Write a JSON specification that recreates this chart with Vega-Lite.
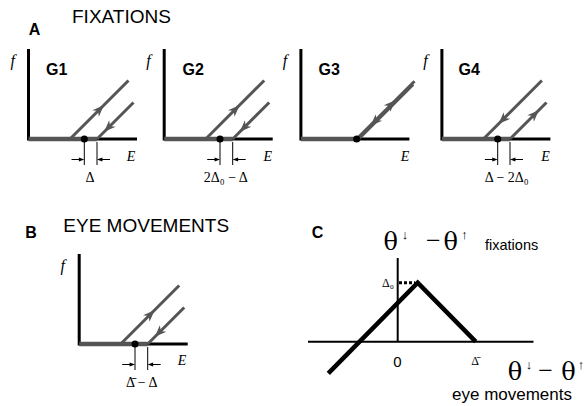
{
  "$schema": "https://vega.github.io/schema/vega-lite/v6.json",
  "width": 586,
  "height": 406,
  "padding": 0,
  "autosize": {"type": "none"},
  "background": "white",
  "config": {"view": {"stroke": null}},
  "datasets": {
    "lines": [
      {"g": "a1", "i": 0, "x": 28.5, "y": 49, "s": "axis"},
      {"g": "a1", "i": 1, "x": 28.5, "y": 139, "s": "axis"},
      {"g": "a1", "i": 2, "x": 137, "y": 139, "s": "axis"},
      {"g": "t1", "i": 0, "x": 28.5, "y": 139, "s": "track"},
      {"g": "t1", "i": 1, "x": 97, "y": 139, "s": "track"},
      {"g": "u1", "i": 0, "x": 70, "y": 139, "s": "branch"},
      {"g": "u1", "i": 1, "x": 128.5, "y": 80.5, "s": "branch"},
      {"g": "w1", "i": 0, "x": 97, "y": 139, "s": "branch"},
      {"g": "w1", "i": 1, "x": 133.5, "y": 102.5, "s": "branch"},
      {"g": "k1a", "i": 0, "x": 84.3, "y": 142, "s": "dim"},
      {"g": "k1a", "i": 1, "x": 84.3, "y": 165, "s": "dim"},
      {"g": "k1b", "i": 0, "x": 97, "y": 142, "s": "dim"},
      {"g": "k1b", "i": 1, "x": 97, "y": 165, "s": "dim"},
      {"g": "s1a", "i": 0, "x": 71.5, "y": 159.5, "s": "dim"},
      {"g": "s1a", "i": 1, "x": 81.6, "y": 159.5, "s": "dim"},
      {"g": "s1b", "i": 0, "x": 110, "y": 159.5, "s": "dim"},
      {"g": "s1b", "i": 1, "x": 99.7, "y": 159.5, "s": "dim"},

      {"g": "a2", "i": 0, "x": 164.2, "y": 49, "s": "axis"},
      {"g": "a2", "i": 1, "x": 164.2, "y": 139, "s": "axis"},
      {"g": "a2", "i": 2, "x": 272.7, "y": 139, "s": "axis"},
      {"g": "t2", "i": 0, "x": 164.2, "y": 139, "s": "track"},
      {"g": "t2", "i": 1, "x": 232.7, "y": 139, "s": "track"},
      {"g": "u2", "i": 0, "x": 205.7, "y": 139, "s": "branch"},
      {"g": "u2", "i": 1, "x": 264.2, "y": 80.5, "s": "branch"},
      {"g": "w2", "i": 0, "x": 232.7, "y": 139, "s": "branch"},
      {"g": "w2", "i": 1, "x": 269.2, "y": 102.5, "s": "branch"},
      {"g": "k2a", "i": 0, "x": 220, "y": 142, "s": "dim"},
      {"g": "k2a", "i": 1, "x": 220, "y": 165, "s": "dim"},
      {"g": "k2b", "i": 0, "x": 232.7, "y": 142, "s": "dim"},
      {"g": "k2b", "i": 1, "x": 232.7, "y": 165, "s": "dim"},
      {"g": "s2a", "i": 0, "x": 207.2, "y": 159.5, "s": "dim"},
      {"g": "s2a", "i": 1, "x": 217.3, "y": 159.5, "s": "dim"},
      {"g": "s2b", "i": 0, "x": 245.7, "y": 159.5, "s": "dim"},
      {"g": "s2b", "i": 1, "x": 235.4, "y": 159.5, "s": "dim"},

      {"g": "a3", "i": 0, "x": 300.9, "y": 49, "s": "axis"},
      {"g": "a3", "i": 1, "x": 300.9, "y": 139, "s": "axis"},
      {"g": "a3", "i": 2, "x": 409.4, "y": 139, "s": "axis"},
      {"g": "t3", "i": 0, "x": 300.9, "y": 139, "s": "track"},
      {"g": "t3", "i": 1, "x": 356.7, "y": 139, "s": "track"},
      {"g": "u3", "i": 0, "x": 356.7, "y": 139, "s": "branch"},
      {"g": "u3", "i": 1, "x": 414.5, "y": 81.2, "s": "branch"},
      {"g": "w3", "i": 0, "x": 358.7, "y": 139, "s": "branch"},
      {"g": "w3", "i": 1, "x": 413.2, "y": 84.5, "s": "branch"},

      {"g": "a4", "i": 0, "x": 441.9, "y": 49, "s": "axis"},
      {"g": "a4", "i": 1, "x": 441.9, "y": 139, "s": "axis"},
      {"g": "a4", "i": 2, "x": 550.4, "y": 139, "s": "axis"},
      {"g": "t4", "i": 0, "x": 441.9, "y": 139, "s": "track"},
      {"g": "t4", "i": 1, "x": 510, "y": 139, "s": "track"},
      {"g": "u4", "i": 0, "x": 510, "y": 139, "s": "branch"},
      {"g": "u4", "i": 1, "x": 546.5, "y": 102.5, "s": "branch"},
      {"g": "w4", "i": 0, "x": 483.4, "y": 139, "s": "branch"},
      {"g": "w4", "i": 1, "x": 541.9, "y": 80.5, "s": "branch"},
      {"g": "k4a", "i": 0, "x": 497.7, "y": 142, "s": "dim"},
      {"g": "k4a", "i": 1, "x": 497.7, "y": 165, "s": "dim"},
      {"g": "k4b", "i": 0, "x": 510, "y": 142, "s": "dim"},
      {"g": "k4b", "i": 1, "x": 510, "y": 165, "s": "dim"},
      {"g": "s4a", "i": 0, "x": 484.9, "y": 159.5, "s": "dim"},
      {"g": "s4a", "i": 1, "x": 495, "y": 159.5, "s": "dim"},
      {"g": "s4b", "i": 0, "x": 523, "y": 159.5, "s": "dim"},
      {"g": "s4b", "i": 1, "x": 512.7, "y": 159.5, "s": "dim"},

      {"g": "a5", "i": 0, "x": 79.2, "y": 254, "s": "axis"},
      {"g": "a5", "i": 1, "x": 79.2, "y": 344, "s": "axis"},
      {"g": "a5", "i": 2, "x": 187.7, "y": 344, "s": "axis"},
      {"g": "t5", "i": 0, "x": 79.2, "y": 344, "s": "track"},
      {"g": "t5", "i": 1, "x": 147.7, "y": 344, "s": "track"},
      {"g": "u5", "i": 0, "x": 120.7, "y": 344, "s": "branch"},
      {"g": "u5", "i": 1, "x": 179.2, "y": 285.5, "s": "branch"},
      {"g": "w5", "i": 0, "x": 147.7, "y": 344, "s": "branch"},
      {"g": "w5", "i": 1, "x": 184.2, "y": 307.5, "s": "branch"},
      {"g": "k5a", "i": 0, "x": 135, "y": 347, "s": "dim"},
      {"g": "k5a", "i": 1, "x": 135, "y": 370, "s": "dim"},
      {"g": "k5b", "i": 0, "x": 147.7, "y": 347, "s": "dim"},
      {"g": "k5b", "i": 1, "x": 147.7, "y": 370, "s": "dim"},
      {"g": "s5a", "i": 0, "x": 122.2, "y": 364.5, "s": "dim"},
      {"g": "s5a", "i": 1, "x": 132.3, "y": 364.5, "s": "dim"},
      {"g": "s5b", "i": 0, "x": 160.7, "y": 364.5, "s": "dim"},
      {"g": "s5b", "i": 1, "x": 150.4, "y": 364.5, "s": "dim"},

      {"g": "c1", "i": 0, "x": 308, "y": 341.7, "s": "caxis"},
      {"g": "c1", "i": 1, "x": 533.5, "y": 341.7, "s": "caxis"},
      {"g": "c2", "i": 0, "x": 397.7, "y": 258, "s": "caxis"},
      {"g": "c2", "i": 1, "x": 397.7, "y": 341.7, "s": "caxis"},
      {"g": "v", "i": 0, "x": 328.3, "y": 373.3, "s": "vee"},
      {"g": "v", "i": 1, "x": 417.7, "y": 282.7, "s": "vee"},
      {"g": "v", "i": 2, "x": 475.7, "y": 341.7, "s": "vee"},
      {"g": "dt", "i": 0, "x": 399, "y": 282.7, "s": "dots"},
      {"g": "dt", "i": 1, "x": 415, "y": 282.7, "s": "dots"}
    ],
    "marks": [
      {"x": 84.3, "y": 139, "a": 0, "s": "dot"},
      {"x": 220, "y": 139, "a": 0, "s": "dot"},
      {"x": 356.7, "y": 139, "a": 0, "s": "dot"},
      {"x": 497.7, "y": 139, "a": 0, "s": "dot"},
      {"x": 135, "y": 344, "a": 0, "s": "dot"},
      {"x": 99.5, "y": 109.5, "a": 45, "s": "head"},
      {"x": 108.5, "y": 127.5, "a": 225, "s": "head"},
      {"x": 235.2, "y": 109.5, "a": 45, "s": "head"},
      {"x": 244.2, "y": 127.5, "a": 225, "s": "head"},
      {"x": 391, "y": 104.5, "a": 45, "s": "head"},
      {"x": 375, "y": 121.5, "a": 225, "s": "head"},
      {"x": 503, "y": 119.5, "a": 225, "s": "head"},
      {"x": 534.5, "y": 114.5, "a": 45, "s": "head"},
      {"x": 150.2, "y": 314.5, "a": 45, "s": "head"},
      {"x": 159.2, "y": 332.5, "a": 225, "s": "head"},
      {"x": 81.6, "y": 159.5, "a": 90, "s": "tip"},
      {"x": 99.7, "y": 159.5, "a": 270, "s": "tip"},
      {"x": 217.3, "y": 159.5, "a": 90, "s": "tip"},
      {"x": 235.4, "y": 159.5, "a": 270, "s": "tip"},
      {"x": 495, "y": 159.5, "a": 90, "s": "tip"},
      {"x": 512.7, "y": 159.5, "a": 270, "s": "tip"},
      {"x": 132.3, "y": 364.5, "a": 90, "s": "tip"},
      {"x": 150.4, "y": 364.5, "a": 270, "s": "tip"}
    ],
    "labels": [
      {"x": 34.5, "y": 35, "t": "A", "s": "bold"},
      {"x": 31, "y": 238.3, "t": "B", "s": "bold"},
      {"x": 317.5, "y": 238.3, "t": "C", "s": "bold"},
      {"x": 56.7, "y": 75, "t": "G1", "s": "bold"},
      {"x": 193.2, "y": 75, "t": "G2", "s": "bold"},
      {"x": 329.2, "y": 75, "t": "G3", "s": "bold"},
      {"x": 469.2, "y": 75, "t": "G4", "s": "bold"},
      {"x": 72, "y": 22.7, "t": "FIXATIONS", "s": "title"},
      {"x": 63.3, "y": 232, "t": "EYE MOVEMENTS", "s": "title"},
      {"x": 12.7, "y": 66, "t": "f", "s": "fvar"},
      {"x": 148.4, "y": 66, "t": "f", "s": "fvar"},
      {"x": 285, "y": 66, "t": "f", "s": "fvar"},
      {"x": 425.5, "y": 66, "t": "f", "s": "fvar"},
      {"x": 62.7, "y": 271, "t": "f", "s": "fvar"},
      {"x": 131, "y": 160.7, "t": "E", "s": "evar"},
      {"x": 267.7, "y": 160.7, "t": "E", "s": "evar"},
      {"x": 405, "y": 160.7, "t": "E", "s": "evar"},
      {"x": 545.5, "y": 160.7, "t": "E", "s": "evar"},
      {"x": 182, "y": 364.5, "t": "E", "s": "evar"},
      {"x": 90, "y": 181.7, "t": "Δ", "s": "dim"},
      {"x": 225.8, "y": 181.7, "t": "2Δ₀ − Δ", "s": "dim"},
      {"x": 506.7, "y": 181.7, "t": "Δ − 2Δ₀", "s": "dim"},
      {"x": 141.7, "y": 386.5, "t": "Δ̄ − Δ", "s": "dim"},
      {"x": 388, "y": 287, "t": "Δ₀", "s": "small"},
      {"x": 475, "y": 365, "t": "Δ̄", "s": "small"},
      {"x": 397.5, "y": 367, "t": "0", "s": "zero"},
      {"x": 390.8, "y": 250, "t": "θ", "s": "theta"},
      {"x": 433.3, "y": 249, "t": "−", "s": "minus"},
      {"x": 450.8, "y": 250, "t": "θ", "s": "theta"},
      {"x": 515, "y": 380, "t": "θ", "s": "theta"},
      {"x": 545.5, "y": 379, "t": "−", "s": "minus"},
      {"x": 568.5, "y": 380, "t": "θ", "s": "theta"},
      {"x": 405, "y": 239, "t": "↓", "s": "arrow"},
      {"x": 464.5, "y": 239, "t": "↑", "s": "arrow"},
      {"x": 529, "y": 369, "t": "↓", "s": "arrow"},
      {"x": 581, "y": 369, "t": "↑", "s": "arrow"},
      {"x": 485, "y": 249.5, "t": "fixations", "s": "word"},
      {"x": 452, "y": 400, "t": "eye movements", "s": "wordlarge"}
    ]
  },
  "encoding": {
    "x": {"field": "x", "type": "quantitative", "scale": {"domain": [0, 586], "nice": false, "zero": false}, "axis": null},
    "y": {"field": "y", "type": "quantitative", "scale": {"domain": [0, 406], "nice": false, "zero": false, "reverse": true}, "axis": null}
  },
  "layer": [
    {
      "data": {"name": "lines"},
      "transform": [{"filter": {"field": "s", "equal": "axis"}}],
      "mark": {"type": "line", "color": "black", "strokeWidth": 3, "strokeJoin": "miter"},
      "encoding": {"detail": {"field": "g"}, "order": {"field": "i", "type": "quantitative"}}
    },
    {
      "data": {"name": "lines"},
      "transform": [{"filter": {"field": "s", "equal": "track"}}],
      "mark": {"type": "line", "color": "#555555", "strokeWidth": 4.5},
      "encoding": {"detail": {"field": "g"}, "order": {"field": "i", "type": "quantitative"}}
    },
    {
      "data": {"name": "lines"},
      "transform": [{"filter": {"field": "s", "equal": "branch"}}],
      "mark": {"type": "line", "color": "#555555", "strokeWidth": 3},
      "encoding": {"detail": {"field": "g"}, "order": {"field": "i", "type": "quantitative"}}
    },
    {
      "data": {"name": "lines"},
      "transform": [{"filter": {"field": "s", "equal": "dim"}}],
      "mark": {"type": "line", "color": "black", "strokeWidth": 1},
      "encoding": {"detail": {"field": "g"}, "order": {"field": "i", "type": "quantitative"}}
    },
    {
      "data": {"name": "lines"},
      "transform": [{"filter": {"field": "s", "equal": "caxis"}}],
      "mark": {"type": "line", "color": "black", "strokeWidth": 2},
      "encoding": {"detail": {"field": "g"}, "order": {"field": "i", "type": "quantitative"}}
    },
    {
      "data": {"name": "lines"},
      "transform": [{"filter": {"field": "s", "equal": "vee"}}],
      "mark": {"type": "line", "color": "black", "strokeWidth": 4.5, "strokeJoin": "miter"},
      "encoding": {"detail": {"field": "g"}, "order": {"field": "i", "type": "quantitative"}}
    },
    {
      "data": {"name": "lines"},
      "transform": [{"filter": {"field": "s", "equal": "dots"}}],
      "mark": {"type": "line", "color": "black", "strokeWidth": 3, "strokeDash": [3, 2]},
      "encoding": {"detail": {"field": "g"}, "order": {"field": "i", "type": "quantitative"}}
    },
    {
      "data": {"name": "marks"},
      "transform": [{"filter": {"field": "s", "equal": "dot"}}],
      "mark": {"type": "circle", "color": "black", "size": 50, "opacity": 1}
    },
    {
      "data": {"name": "marks"},
      "transform": [{"filter": {"field": "s", "equal": "head"}}],
      "mark": {"type": "point", "shape": "M0,-1L0.75,0.9L0,0.35L-0.75,0.9Z", "filled": true, "color": "#555555", "size": 150, "opacity": 1},
      "encoding": {"angle": {"field": "a", "type": "quantitative", "scale": null}}
    },
    {
      "data": {"name": "marks"},
      "transform": [{"filter": {"field": "s", "equal": "tip"}}],
      "mark": {"type": "point", "shape": "M0,-1L0.7,1L-0.7,1Z", "filled": true, "color": "black", "size": 30, "opacity": 1},
      "encoding": {"angle": {"field": "a", "type": "quantitative", "scale": null}}
    },
    {
      "data": {"name": "labels"},
      "transform": [{"filter": {"field": "s", "equal": "bold"}}],
      "mark": {"type": "text", "font": "Liberation Sans", "fontWeight": "bold", "fontSize": 16, "align": "center", "baseline": "alphabetic", "color": "black"},
      "encoding": {"text": {"field": "t"}}
    },
    {
      "data": {"name": "labels"},
      "transform": [{"filter": {"field": "s", "equal": "title"}}],
      "mark": {"type": "text", "font": "Liberation Sans", "fontSize": 19, "align": "left", "baseline": "alphabetic", "color": "black"},
      "encoding": {"text": {"field": "t"}}
    },
    {
      "data": {"name": "labels"},
      "transform": [{"filter": {"field": "s", "equal": "fvar"}}],
      "mark": {"type": "text", "font": "Liberation Serif", "fontStyle": "italic", "fontSize": 16, "align": "center", "baseline": "alphabetic", "color": "black"},
      "encoding": {"text": {"field": "t"}}
    },
    {
      "data": {"name": "labels"},
      "transform": [{"filter": {"field": "s", "equal": "evar"}}],
      "mark": {"type": "text", "font": "Liberation Serif", "fontStyle": "italic", "fontSize": 14, "align": "center", "baseline": "alphabetic", "color": "black"},
      "encoding": {"text": {"field": "t"}}
    },
    {
      "data": {"name": "labels"},
      "transform": [{"filter": {"field": "s", "equal": "dim"}}],
      "mark": {"type": "text", "font": "Liberation Serif, DejaVu Serif", "fontSize": 14, "align": "center", "baseline": "alphabetic", "color": "black"},
      "encoding": {"text": {"field": "t"}}
    },
    {
      "data": {"name": "labels"},
      "transform": [{"filter": {"field": "s", "equal": "small"}}],
      "mark": {"type": "text", "font": "Liberation Serif, DejaVu Serif", "fontSize": 12, "align": "center", "baseline": "alphabetic", "color": "black"},
      "encoding": {"text": {"field": "t"}}
    },
    {
      "data": {"name": "labels"},
      "transform": [{"filter": {"field": "s", "equal": "zero"}}],
      "mark": {"type": "text", "font": "Liberation Sans", "fontSize": 15, "align": "center", "baseline": "alphabetic", "color": "black"},
      "encoding": {"text": {"field": "t"}}
    },
    {
      "data": {"name": "labels"},
      "transform": [{"filter": {"field": "s", "equal": "theta"}}],
      "mark": {"type": "text", "font": "DejaVu Serif", "fontSize": 24, "align": "center", "baseline": "alphabetic", "color": "black"},
      "encoding": {"text": {"field": "t"}}
    },
    {
      "data": {"name": "labels"},
      "transform": [{"filter": {"field": "s", "equal": "minus"}}],
      "mark": {"type": "text", "font": "Liberation Serif", "fontSize": 26, "align": "center", "baseline": "alphabetic", "color": "black"},
      "encoding": {"text": {"field": "t"}}
    },
    {
      "data": {"name": "labels"},
      "transform": [{"filter": {"field": "s", "equal": "arrow"}}],
      "mark": {"type": "text", "font": "Liberation Sans", "fontSize": 13, "align": "center", "baseline": "alphabetic", "color": "black"},
      "encoding": {"text": {"field": "t"}}
    },
    {
      "data": {"name": "labels"},
      "transform": [{"filter": {"field": "s", "equal": "word"}}],
      "mark": {"type": "text", "font": "Liberation Sans", "fontSize": 14.5, "align": "left", "baseline": "alphabetic", "color": "black"},
      "encoding": {"text": {"field": "t"}}
    },
    {
      "data": {"name": "labels"},
      "transform": [{"filter": {"field": "s", "equal": "wordlarge"}}],
      "mark": {"type": "text", "font": "Liberation Sans", "fontSize": 17, "align": "left", "baseline": "alphabetic", "color": "black"},
      "encoding": {"text": {"field": "t"}}
    }
  ]
}
